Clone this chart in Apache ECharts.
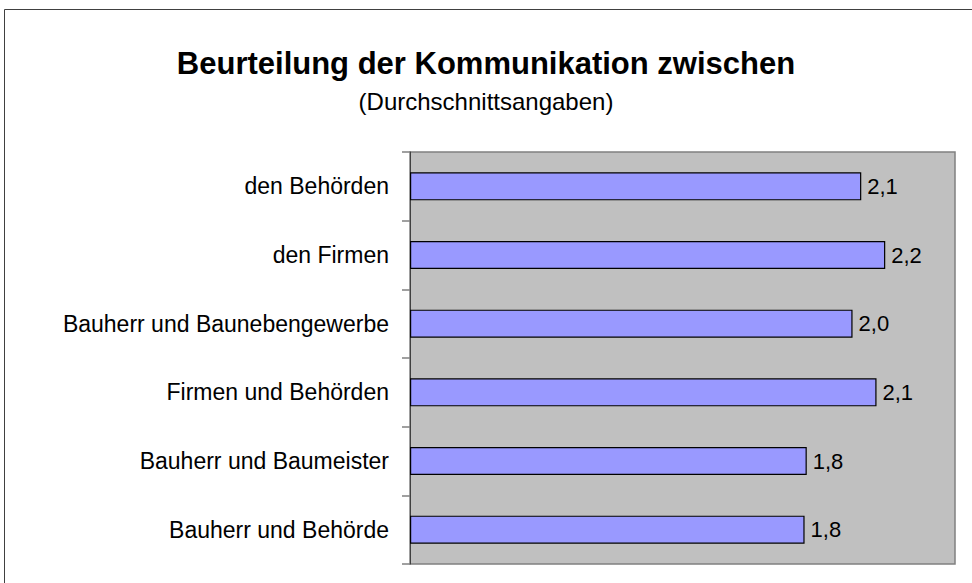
<!DOCTYPE html>
<html>
<head>
<meta charset="utf-8">
<script src="https://cdn.jsdelivr.net/npm/echarts@6/dist/echarts.min.js"></script>
<style>
  html, body { margin: 0; padding: 0; background: #fff; }
  #chart-container { width: 972px; height: 583px; }
</style>
</head>
<body>
<div id="chart-container"></div>
<script>
// Kategorien (von oben nach unten)
const categories = [
  'den Behörden',
  'den Firmen',
  'Bauherr und Baunebengewerbe',
  'Firmen und Behörden',
  'Bauherr und Baumeister',
  'Bauherr und Behörde'
];
// Durchschnittswerte
const values = [2.07, 2.18, 2.03, 2.14, 1.82, 1.81];

const fontFamily = '"Liberation Sans", Arial, sans-serif';

const chartOption = {
  animation: false,
  title: [{
    text: 'Beurteilung der Kommunikation zwischen',
    left: 'center',
    top: 43,
    textStyle: { fontFamily, fontSize: 31, fontWeight: 'bold', color: '#000' }
  }, {
    text: '(Durchschnittsangaben)',
    left: 'center',
    top: 84,
    textStyle: { fontFamily, fontSize: 24, fontWeight: 'normal', color: '#000' }
  }],
  graphic: [{
    type: 'rect',
    shape: { x: 4.5, y: 9.5, width: 1000, height: 1000 },
    style: { fill: 'none', stroke: '#404040', lineWidth: 1 },
    silent: true
  }],
  grid: {
    left: 410,
    right: 17,
    top: 152,
    bottom: 19,
    show: true,
    backgroundColor: '#c0c0c0',
    borderColor: '#808080',
    borderWidth: 1.5
  },
  xAxis: {
    type: 'value',
    min: 0,
    max: 2.5,
    show: false,
    splitLine: { show: false }
  },
  yAxis: {
    type: 'category',
    inverse: true,
    data: categories,
    axisLine: { show: true, lineStyle: { color: '#404040', width: 1 } },
    axisTick: { show: true, length: 8, lineStyle: { color: '#808080', width: 1.5 } },
    axisLabel: { margin: 21, fontFamily, fontSize: 23, color: '#000' }
  },
  series: [{
    type: 'bar',
    data: values,
    barWidth: 28,
    itemStyle: { color: '#9999ff', borderColor: '#000', borderWidth: 1.2 },
    label: {
      show: true,
      position: 'right',
      distance: 6,
      fontFamily,
      fontSize: 22,
      color: '#000',
      formatter: p => p.value.toFixed(1).replace('.', ',')
    }
  }]
};

const chart = echarts.init(document.getElementById('chart-container'), null, { renderer: 'svg' });
chart.setOption(chartOption);
</script>
</body>
</html>
